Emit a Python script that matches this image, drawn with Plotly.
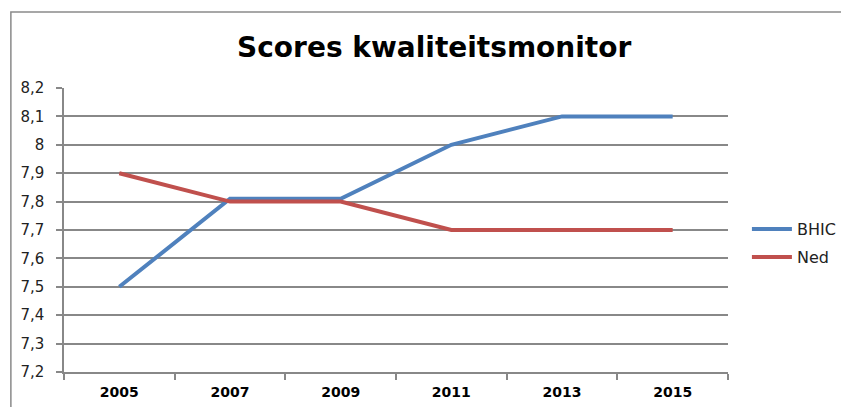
import plotly.graph_objects as go

years = ["2005", "2007", "2009", "2011", "2013", "2015"]
bhic = [7.5, 7.81, 7.81, 8.0, 8.1, 8.1]
ned = [7.9, 7.8, 7.8, 7.7, 7.7, 7.7]
y_ticks = [7.2, 7.3, 7.4, 7.5, 7.6, 7.7, 7.8, 7.9, 8.0, 8.1, 8.2]
y_tick_labels = ["7,2", "7,3", "7,4", "7,5", "7,6", "7,7", "7,8", "7,9", "8", "8,1", "8,2"]

GRID = "#888888"
FONT = "DejaVu Sans"

fig = go.Figure()
fig.add_trace(go.Scatter(x=years, y=bhic, name="BHIC", mode="lines", legend="legend",
                         showlegend=True, line=dict(color="#4F81BD", width=4)))
fig.add_trace(go.Scatter(x=years, y=ned, name="Ned", mode="lines", legend="legend2",
                         showlegend=True, line=dict(color="#C0504D", width=4)))

leg_common = dict(xanchor="left", yanchor="middle", itemwidth=40,
                  font=dict(family=FONT, size=16, color="#222"),
                  bgcolor="rgba(0,0,0,0)", visible=True)

fig.update_layout(
    width=849, height=407, showlegend=True,
    margin=dict(l=54, r=129, t=80, b=43),
    paper_bgcolor="white", plot_bgcolor="white",
    title=dict(text="<b>Scores kwaliteitsmonitor</b>", xref="container", yref="container",
               x=0.502, y=0.904, xanchor="center", yanchor="middle",
               font=dict(family=FONT, size=28, color="black")),
    xaxis=dict(type="category", range=[-0.5, 5.5], showgrid=False,
               showline=True, linecolor=GRID, linewidth=1.5,
               ticks="outside", tickson="boundaries", ticklen=6, tickcolor=GRID, tickwidth=1.5,
               ticklabelstandoff=6,
               tickfont=dict(family=FONT, size=14, color="black", weight="bold")),
    yaxis=dict(range=[7.2, 8.2], tickvals=y_ticks, ticktext=y_tick_labels,
               showgrid=True, gridcolor=GRID, gridwidth=1.5,
               showline=True, linecolor=GRID, linewidth=1.5,
               ticks="outside", ticklen=6, tickcolor=GRID, tickwidth=1.5,
               ticklabelstandoff=9,
               tickfont=dict(family=FONT, size=15, color="#222"), zeroline=False),
    legend=dict(x=1.0285, y=0.5035, **leg_common),
    legend2=dict(x=1.0285, y=0.405, **leg_common),
    shapes=[dict(type="rect", xref="paper", yref="paper",
                 x0=-0.080, y0=-0.4, x1=1.4, y1=1.2676,
                 line=dict(color="#8a8a8a", width=1.5), fillcolor="rgba(0,0,0,0)", layer="below")],
)

fig.write_html("out.html")
